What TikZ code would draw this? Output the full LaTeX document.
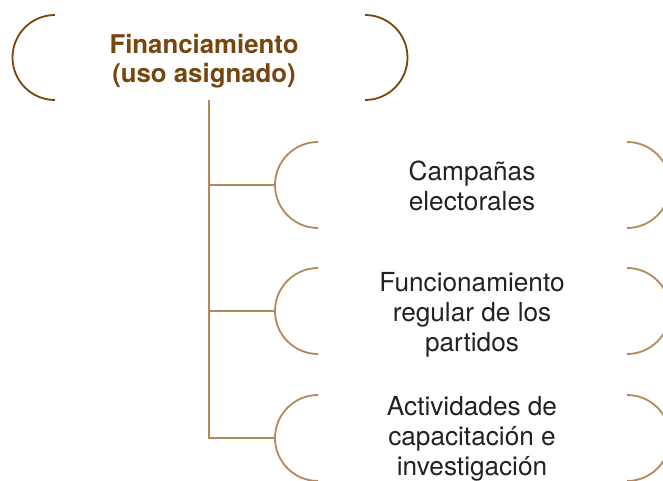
\documentclass[tikz,border=0pt]{standalone}
\usepackage{fontspec}
\setmainfont{TeX Gyre Heros}
\definecolor{darkbrown}{HTML}{77460F}
\definecolor{lightbrown}{HTML}{B5885A}
\definecolor{textgray}{HTML}{222222}
\tikzset{
  roottext/.style={font=\fontsize{25.8}{29}\selectfont\bfseries, text=darkbrown, align=center, inner sep=0pt},
  childtext/.style={font=\fontsize{26.2}{30}\selectfont, text=textgray, align=center, inner sep=0pt},
  rootbracket/.style={draw=darkbrown, line width=1.8pt},
  childbracket/.style={draw=lightbrown, line width=1.8pt},
  connector/.style={draw=lightbrown, line width=1.8pt}
}
\begin{document}
\begin{tikzpicture}[x=1pt,y=-1pt]
\useasboundingbox (0,0) rectangle (663,481);
\clip (0,0) rectangle (663,481);
% root
\node[roottext] (root) at (204,61) {Financiamiento\\(uso asignado)};
\draw[rootbracket] (55,15) arc[start angle=270, end angle=90, radius=42.5];
\draw[rootbracket] (365,15) arc[start angle=-90, end angle=90, radius=42.5];
\coordinate (trunk) at (209,100);
% children
\foreach \name/\cy in {c1/185, c2/311, c3/438}{
  \draw[childbracket] (318,\cy-43) arc[start angle=270, end angle=90, radius=43];
  \draw[childbracket] (627,\cy-43) arc[start angle=-90, end angle=90, radius=43];
  \coordinate (\name L) at (275,\cy);
}
\node[childtext] (n1) at (472,186) {Campañas\\electorales};
\node[childtext] (n2) at (472,315) {Funcionamiento\\regular de los\\partidos};
\node[childtext] (n3) at (472,438.5) {Actividades de\\capacitación e\\investigación};
% connectors
\draw[connector] (trunk) |- (c3L);
\draw[connector] (trunk |- c1L) -- (c1L);
\draw[connector] (trunk |- c2L) -- (c2L);
\end{tikzpicture}
\end{document}
